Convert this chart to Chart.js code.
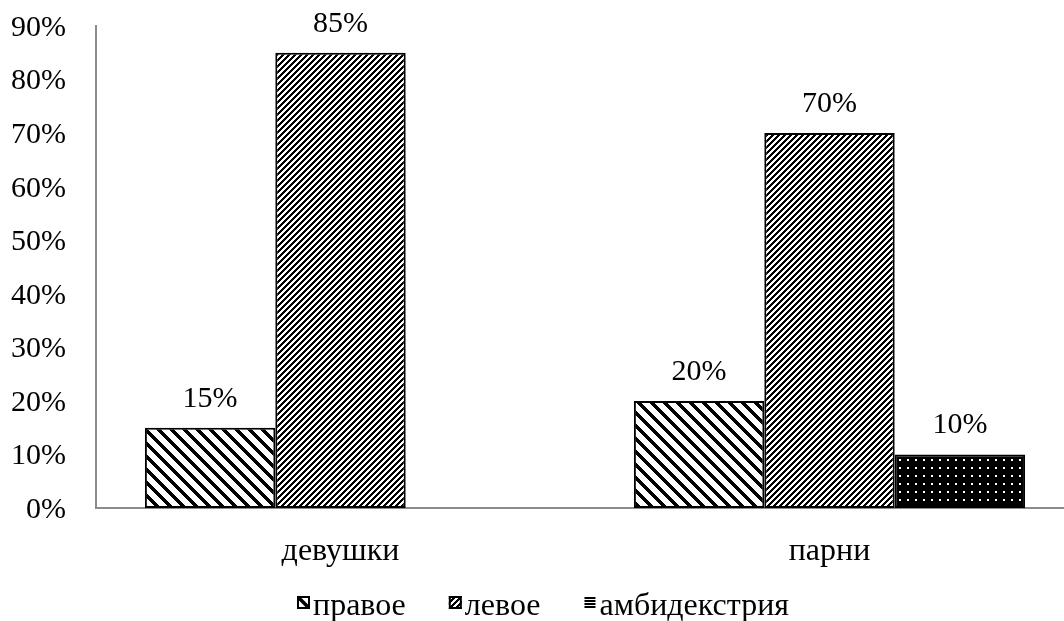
<!DOCTYPE html>
<html>
<head>
<meta charset="utf-8">
<script src="https://cdn.jsdelivr.net/npm/chart.js@4"></script>
<style>
  html, body { margin: 0; padding: 0; background: #fff; overflow: hidden; }
  #wrap { position: absolute; left: 0; top: 0; width: 1074px; height: 621px; }
</style>
</head>
<body>
<div id="wrap"><canvas id="c"></canvas></div>
<script>
// Доля испытуемых по ведущей руке
const categories = ['девушки', 'парни'];
const rightHanded = [15, 20];
const leftHanded = [85, 70];
const ambidextrous = [0, 10];
const seriesNames = ['правое', 'левое', 'амбидекстрия'];
const yTicks = [0, 10, 20, 30, 40, 50, 60, 70, 80, 90];

const FONT = '"Liberation Serif", "Times New Roman", serif';
const TICK_SIZE = 30;
const CAT_SIZE = 32;
const LEGEND_SIZE = 32;

// --- fill patterns, drawn pixel by pixel so the hatching stays crisp ---
function pixelTile(w, h, isInk, ink, paper) {
  const c = document.createElement('canvas');
  c.width = w; c.height = h;
  const g = c.getContext('2d');
  g.fillStyle = paper; g.fillRect(0, 0, w, h);
  g.fillStyle = ink;
  for (let y = 0; y < h; y++) {
    for (let x = 0; x < w; x++) {
      if (isInk(x, y)) g.fillRect(x, y, 1, 1);
    }
  }
  return c;
}
const mod = (a, n) => ((a % n) + n) % n;
// wide "\" stripes
const tileRight = pixelTile(13, 13, (x, y) => mod(x - y, 13) < 5, '#000', '#fff');
// dense "/" stripes
const tileLeft = pixelTile(6, 6, (x, y) => mod(x + y, 6) < 3, '#000', '#fff');
// black with small white dots
const tileAmbi = pixelTile(8, 8, (x, y) => !((x === 3 || x === 4) && (y === 3 || y === 4)), '#000', '#fff');

const ctx = document.getElementById('c').getContext('2d');
const patRight = ctx.createPattern(tileRight, 'repeat');
const patLeft = ctx.createPattern(tileLeft, 'repeat');
const patAmbi = ctx.createPattern(tileAmbi, 'repeat');

const borderFor = (c) => (c.raw ? 2 : 0);

// value labels above the bars
const valueLabels = {
  id: 'valueLabels',
  afterDatasetsDraw(chart) {
    const g = chart.ctx;
    g.save();
    g.font = TICK_SIZE + 'px ' + FONT;
    g.fillStyle = '#000';
    g.textAlign = 'center';
    g.textBaseline = 'middle';
    chart.data.datasets.forEach((ds, i) => {
      chart.getDatasetMeta(i).data.forEach((bar, j) => {
        const v = ds.data[j];
        if (!v) return;
        g.fillText(v + '%', bar.x, bar.y - 29);
      });
    });
    g.restore();
  }
};

// legend row under the axis, centred on the page
const legendRow = {
  id: 'legendRow',
  afterDraw(chart) {
    const g = chart.ctx;
    const kinds = ['right', 'left', 'lines'];
    const box = 13, gapText = 3, gapItem = 43;
    const iconTop = 596, baseline = 615;
    g.save();
    g.font = LEGEND_SIZE + 'px ' + FONT;
    const widths = seriesNames.map(n => g.measureText(n).width);
    const total = widths.reduce((a, w) => a + box + gapText + w, 0) + gapItem * (seriesNames.length - 1);
    let x = Math.round(543 - total / 2);
    g.textBaseline = 'alphabetic';
    g.textAlign = 'left';
    kinds.forEach((kind, i) => {
      if (kind === 'right') {
        g.fillStyle = '#fff'; g.fillRect(x, iconTop, box, box);
        g.save();
        g.beginPath(); g.rect(x, iconTop, box, box); g.clip();
        g.strokeStyle = '#000'; g.lineWidth = 3.5;
        g.beginPath(); g.moveTo(x, iconTop); g.lineTo(x + box, iconTop + box); g.stroke();
        g.restore();
        g.strokeStyle = '#000'; g.lineWidth = 2; g.strokeRect(x + 1, iconTop + 1, box - 2, box - 2);
      } else if (kind === 'left') {
        g.fillStyle = patLeft; g.fillRect(x, iconTop, box, box);
        g.strokeStyle = '#000'; g.lineWidth = 2; g.strokeRect(x + 1, iconTop + 1, box - 2, box - 2);
      } else {
        g.fillStyle = '#000';
        for (let k = 0; k < 4; k++) g.fillRect(x + 1, iconTop + 1 + k * 3, box - 2, 2);
      }
      g.fillStyle = '#000';
      g.fillText(seriesNames[i], x + box + gapText, baseline);
      x += box + gapText + widths[i] + gapItem;
    });
    g.restore();
  }
};

new Chart(ctx, {
  type: 'bar',
  data: {
    labels: categories,
    datasets: [
      { label: seriesNames[0], data: rightHanded, backgroundColor: patRight, borderColor: '#000', borderWidth: borderFor, borderSkipped: false },
      { label: seriesNames[1], data: leftHanded, backgroundColor: patLeft, borderColor: '#000', borderWidth: borderFor, borderSkipped: false },
      { label: seriesNames[2], data: ambidextrous, backgroundColor: patAmbi, borderColor: '#000', borderWidth: borderFor, borderSkipped: false }
    ]
  },
  options: {
    responsive: true,
    maintainAspectRatio: false,
    animation: false,
    devicePixelRatio: 1,
    layout: { padding: { top: 26, left: 0, right: 0, bottom: 0 } },
    plugins: { legend: { display: false }, tooltip: { enabled: false } },
    datasets: { bar: { categoryPercentage: 0.8, barPercentage: 1.0 } },
    scales: {
      x: {
        grid: { display: false, drawTicks: false },
        border: { display: true, color: '#8c8c8c', width: 2 },
        ticks: { color: '#000', font: { family: FONT, size: CAT_SIZE }, padding: 24, maxRotation: 0 },
        afterFit: (s) => { s.height = 113; s.paddingLeft = 0; s.paddingRight = 0; }
      },
      y: {
        min: 0,
        max: 90,
        afterBuildTicks: (s) => { s.ticks = yTicks.map(v => ({ value: v })); },
        grid: { display: false, drawTicks: false },
        border: { display: true, color: '#8c8c8c', width: 2 },
        ticks: { color: '#000', font: { family: FONT, size: TICK_SIZE }, padding: 30, labelOffset: 2, callback: (v) => v + '%' },
        afterFit: (s) => { s.width = 96; s.paddingTop = 0; s.paddingBottom = 0; }
      }
    }
  },
  plugins: [valueLabels, legendRow]
});
</script>
</body>
</html>
